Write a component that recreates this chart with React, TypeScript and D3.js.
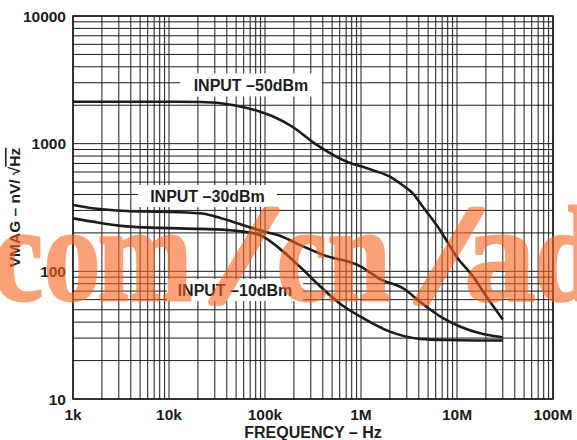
import React from "react";
import * as d3 from "d3";

const xTicks = [1e3, 1e4, 1e5, 1e6, 1e7, 1e8];
const xTickLabels = ["1k", "10k", "100k", "1M", "10M", "100M"];
const yTicks = [10, 100, 1000, 10000];
const yTickLabels = ["10", "100", "1000", "10000"];

// INPUT -50dBm
const freqA = [1e3, 1e4, 2.2e4, 4.6e4, 8.9e4, 1.2e5, 1.95e5, 3.2e5, 7.7e5, 1e6, 1.4e6, 2e6, 2.74e6, 3.5e6, 4.4e6, 6.65e6, 9.9e6, 1.47e7, 2.04e7, 3e7];
const valA = [2130, 2130, 2120, 2010, 1780, 1640, 1350, 1020, 706, 665, 611, 552, 470, 405, 321, 211, 130, 91, 63, 42];
// INPUT -30dBm
const freqB = [1e3, 1.6e3, 3.6e3, 8e3, 2.1e4, 3.1e4, 4.6e4, 8.9e4, 1.43e5, 2.3e5, 4.1e5, 1e6, 1.58e6, 2.8e6, 4.1e6, 6.8e6, 1.07e7, 1.74e7, 3e7];
const valB = [331, 312, 297, 293, 285, 268, 245, 209, 190, 161, 134, 109, 87, 73, 58, 44, 37, 32.7, 30.5];
// INPUT -10dBm
const freqC = [1e3, 1.6e3, 3.6e3, 8e3, 2.1e4, 4.6e4, 8.9e4, 1.4e5, 2.3e5, 3.7e5, 6e5, 1.05e6, 2e6, 4.1e6, 7.7e6, 3e7];
const valC = [260, 245, 225, 219, 215, 209, 192, 152, 109, 77, 56, 43, 33.7, 29.6, 29, 28.7];

const labels = ["INPUT –50dBm", "INPUT –30dBm", "INPUT –10dBm"];

const watermark = ["c", "o", "m", "/", "c", "n", "/", "a", "d"];

export default function App() {
  const W = 577, H = 440;
  const L = 73, R = 553, T = 16, B = 399;
  const x = d3.scaleLog().domain([1e3, 1e8]).range([L, R]);
  const y = d3.scaleLog().domain([10, 1e4]).range([B, T]);

  const vGrid: number[] = [];
  for (let d = 1e3; d < 1e8; d *= 10) for (let m = 1; m <= 9; m++) vGrid.push(m * d);
  vGrid.push(1e8);
  const hGrid: number[] = [];
  for (let d = 10; d < 1e4; d *= 10) for (let m = 1; m <= 9; m++) hGrid.push(m * d);
  hGrid.push(1e4);

  const line = d3
    .line<[number, number]>()
    .x((d) => x(d[0]))
    .y((d) => y(d[1]))
    .curve(d3.curveMonotoneX);

  const series = [
    freqA.map((f, i) => [f, valA[i]] as [number, number]),
    freqB.map((f, i) => [f, valB[i]] as [number, number]),
    freqC.map((f, i) => [f, valC[i]] as [number, number]),
  ];

  const font = "'Liberation Sans', Arial, Helvetica, sans-serif";
  const ink = "#1c1c1c";

  const labelPos = [
    { cx: 251, cy: 85, w: 142, h: 23 },
    { cx: 207.5, cy: 196, w: 139, h: 22 },
    { cx: 235, cy: 290, w: 136, h: 22 },
  ];

  const wmX = [18, 72, 145, 233, 302, 359, 438, 500, 566];

  return (
    <svg width={W} height={H} style={{ position: "absolute", left: 0, top: 0, background: "#fff" }}>
      <rect x={0} y={0} width={W} height={H} fill="#fff" />
      <g stroke={ink} strokeWidth={1}>
        {vGrid.map((v, i) => (
          <line key={"v" + i} x1={x(v)} x2={x(v)} y1={T} y2={B} />
        ))}
        {hGrid.map((v, i) => (
          <line key={"h" + i} x1={L} x2={R} y1={y(v)} y2={y(v)} />
        ))}
      </g>
      {labels.map((t, i) => (
        <g key={"lab" + i}>
          <rect
            x={labelPos[i].cx - labelPos[i].w / 2}
            y={labelPos[i].cy - labelPos[i].h / 2}
            width={labelPos[i].w}
            height={labelPos[i].h}
            fill="#fff"
          />
          <text
            x={labelPos[i].cx}
            y={labelPos[i].cy + 6}
            textAnchor="middle"
            fontFamily={font}
            fontWeight="bold"
            fontSize={16}
            fill={ink}
          >
            {t}
          </text>
        </g>
      ))}
      {series.map((s, i) => (
        <path key={"s" + i} d={line(s) || ""} fill="none" stroke={ink} strokeWidth={2.6} strokeLinejoin="round" />
      ))}
      <rect x={L} y={T} width={R - L} height={B - T} fill="none" stroke={ink} strokeWidth={1.6} />
      {xTicks.map((v, i) => (
        <text key={"xt" + i} x={x(v)} y={420} textAnchor="middle" fontFamily={font} fontWeight="bold" fontSize={15.5} fill={ink}>
          {xTickLabels[i]}
        </text>
      ))}
      {yTicks.map((v, i) => (
        <text key={"yt" + i} x={66} y={y(v) + 5.5} textAnchor="end" fontFamily={font} fontWeight="bold" fontSize={15.5} fill={ink}>
          {yTickLabels[i]}
        </text>
      ))}
      <text x={(L + R) / 2} y={438} textAnchor="middle" fontFamily={font} fontWeight="bold" fontSize={16} fill={ink}>
        FREQUENCY – Hz
      </text>
      <text
        transform="translate(20,207.5) rotate(-90)"
        textAnchor="middle"
        fontFamily={font}
        fontWeight="bold"
        fontSize={15.5}
        fill={ink}
      >
        VMAG – nV/ √<tspan style={{ textDecoration: "overline" }}>Hz</tspan>
      </text>
      <g opacity={0.6} fontFamily="'Liberation Serif', 'Times New Roman', serif" fontWeight="bold" fontSize={135}>
        {watermark.map((ch, i) => (
          <text
            key={"wm" + i}
            textAnchor="middle"
            fill="#fa641e"
            stroke="#fa641e"
            strokeWidth={ch === "/" ? 9 : 3}
            strokeLinejoin="round"
            transform={
              ch === "/"
                ? `translate(${wmX[i]},300) skewX(-14)`
                : `translate(${wmX[i]},300) scale(${ch === "a" ? 1.05 : 0.84},1)`
            }
          >
            {ch}
          </text>
        ))}
      </g>
    </svg>
  );
}
